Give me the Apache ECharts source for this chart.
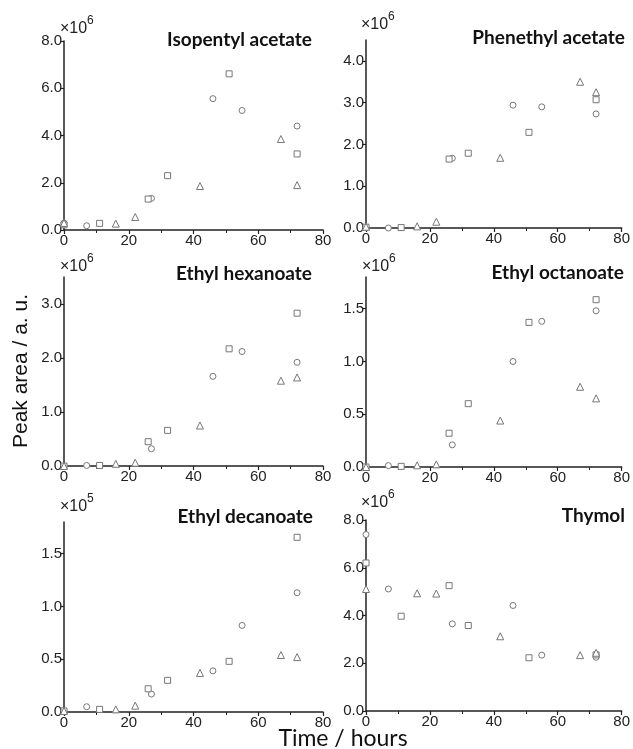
<!DOCTYPE html>
<html>
<head>
<meta charset="utf-8">
<script src="https://cdn.jsdelivr.net/npm/echarts@6/dist/echarts.min.js"></script>
<style>
html,body{margin:0;padding:0;background:#fff;}
#chart{width:633px;height:749px;}
</style>
</head>
<body>
<div id="chart"></div>
<script>
// Sampling times (hours) for the three replicate series
const tCircle = [0, 7, 27, 46, 55, 72];
const tSquare = [0, 11, 26, 32, 51, 72];
const tTriangle = [0, 16, 22, 42, 67, 72];

// Panel titles and multipliers
const titles = ['Isopentyl acetate', 'Phenethyl acetate', 'Ethyl hexanoate', 'Ethyl octanoate', 'Ethyl decanoate', 'Thymol'];
const exponents = ['6', '6', '6', '6', '5', '6'];

// Values in units of the panel multiplier
const isoCircle = [0.30, 0.18, 1.34, 5.56, 5.06, 4.40];
const isoSquare = [0.22, 0.28, 1.31, 2.30, 6.61, 3.22];
const isoTriangle = [0.30, 0.27, 0.55, 1.86, 3.85, 1.90];

const pheCircle = [0.02, 0.00, 1.67, 2.94, 2.90, 2.73];
const pheSquare = [0.02, 0.01, 1.65, 1.79, 2.29, 3.07];
const pheTriangle = [0.03, 0.04, 0.15, 1.68, 3.50, 3.25];

const hexCircle = [0.00, 0.01, 0.32, 1.66, 2.12, 1.92];
const hexSquare = [0.00, 0.01, 0.45, 0.66, 2.17, 2.83];
const hexTriangle = [0.00, 0.04, 0.06, 0.75, 1.58, 1.64];

const octCircle = [0.00, 0.013, 0.21, 1.00, 1.38, 1.48];
const octSquare = [0.00, 0.006, 0.32, 0.60, 1.37, 1.585];
const octTriangle = [0.00, 0.016, 0.025, 0.44, 0.76, 0.65];

const decCircle = [0.01, 0.05, 0.17, 0.39, 0.82, 1.13];
const decSquare = [0.01, 0.025, 0.22, 0.30, 0.48, 1.655];
const decTriangle = [0.01, 0.025, 0.06, 0.37, 0.54, 0.52];

const thyCircle = [7.39, 5.11, 3.65, 4.42, 2.34, 2.25];
const thySquare = [6.20, 3.97, 5.25, 3.58, 2.23, 2.35];
const thyTriangle = [5.11, 4.93, 4.92, 3.13, 2.34, 2.44];

// Axis ticks
const xTicks = [0, 20, 40, 60, 80];
const yTicks = [
  [0, 2, 4, 6, 8],
  [0, 1, 2, 3, 4],
  [0, 1, 2, 3],
  [0, 0.5, 1.0, 1.5],
  [0, 0.5, 1.0, 1.5],
  [0, 2, 4, 6, 8]
];
const yMax = [8, 4.5, 3.5, 1.8, 1.8, 8];

const panelCircles = [isoCircle, pheCircle, hexCircle, octCircle, decCircle, thyCircle];
const panelSquares = [isoSquare, pheSquare, hexSquare, octSquare, decSquare, thySquare];
const panelTriangles = [isoTriangle, pheTriangle, hexTriangle, octTriangle, decTriangle, thyTriangle];

// Layout (px)
const grids = [
  {left: 64, top: 41, width: 259, height: 189},
  {left: 366, top: 40, width: 259, height: 188},
  {left: 64, top: 277, width: 259, height: 189},
  {left: 366, top: 277, width: 259, height: 190},
  {left: 64, top: 522, width: 259, height: 190},
  {left: 366, top: 520, width: 259, height: 191}
];
const titlePos = [[312, 40], [625, 38], [312, 274], [624, 273], [313, 517], [625, 516]];
const multPos = [[60, 29], [361, 25], [60, 267], [362, 267], [60, 507], [361, 503]];

const axisColor = '#222';
const labelFont = '"Liberation Sans", Arial, sans-serif';

const pairs = (xs, ys) => xs.map((x, i) => [x, ys[i]]);

const xAxes = [], yAxes = [], series = [], graphics = [];
grids.forEach((g, i) => {
  xAxes.push({
    type: 'value', gridIndex: i, min: 0, max: 80, interval: 20,
    splitLine: {show: false},
    axisLine: {show: true, onZero: false, lineStyle: {color: axisColor, width: 1.5}},
    axisTick: {show: true, length: 4, lineStyle: {color: axisColor, width: 1.2}},
    minorTick: {show: true, splitNumber: 2, length: 3, lineStyle: {color: axisColor, width: 1}},
    axisLabel: {color: '#222', fontSize: 15, fontFamily: labelFont, margin: 3, customValues: xTicks}
  });
  yAxes.push({
    type: 'value', gridIndex: i, min: 0, max: yMax[i],
    splitLine: {show: false},
    axisLine: {show: true, onZero: false, lineStyle: {color: axisColor, width: 1.5}},
    axisTick: {show: true, length: 4, lineStyle: {color: axisColor, width: 1.2}, customValues: yTicks[i]},
    axisLabel: {color: '#222', fontSize: 15, fontFamily: labelFont, margin: 2,
      customValues: yTicks[i], formatter: v => v.toFixed(1)}
  });
  const common = {
    type: 'scatter', xAxisIndex: i, yAxisIndex: i, symbolSize: 6,
    itemStyle: {color: '#fff', borderColor: '#777', borderWidth: 1, opacity: 1},
    emphasis: {disabled: true}, z: 3
  };
  series.push(Object.assign({}, common, {symbol: 'circle', data: pairs(tCircle, panelCircles[i])}));
  series.push(Object.assign({}, common, {symbol: 'rect', data: pairs(tSquare, panelSquares[i])}));
  series.push(Object.assign({}, common, {symbol: 'triangle', symbolSize: 7, data: pairs(tTriangle, panelTriangles[i])}));

  graphics.push({
    type: 'text', x: titlePos[i][0], y: titlePos[i][1],
    style: {text: titles[i], font: 'bold 19px Lato, "Open Sans", sans-serif', fill: '#111',
      align: 'right', verticalAlign: 'middle'}
  });
  graphics.push({
    type: 'text', x: multPos[i][0], y: multPos[i][1],
    style: {text: '×10', font: '16px ' + labelFont, fill: '#222', align: 'left', verticalAlign: 'middle'}
  });
  graphics.push({
    type: 'text', x: multPos[i][0] + 27, y: multPos[i][1] - 8,
    style: {text: exponents[i], font: '12px ' + labelFont, fill: '#222', align: 'left', verticalAlign: 'middle'}
  });
});

graphics.push({
  type: 'text', x: 21, y: 371, rotation: Math.PI / 2,
  style: {text: 'Peak area / a. u.', font: '21px ' + labelFont, fill: '#111', align: 'center', verticalAlign: 'middle'}
});
graphics.push({
  type: 'text', x: 343, y: 739,
  style: {text: 'Time / hours', font: '23px Lato, "Open Sans", sans-serif', fill: '#111', align: 'center', verticalAlign: 'middle'}
});

const chart = echarts.init(document.getElementById('chart'), null, {renderer: 'canvas'});
chart.setOption({
  animation: false,
  backgroundColor: '#fff',
  grid: grids,
  xAxis: xAxes,
  yAxis: yAxes,
  series: series,
  graphic: graphics
});
</script>
</body>
</html>
